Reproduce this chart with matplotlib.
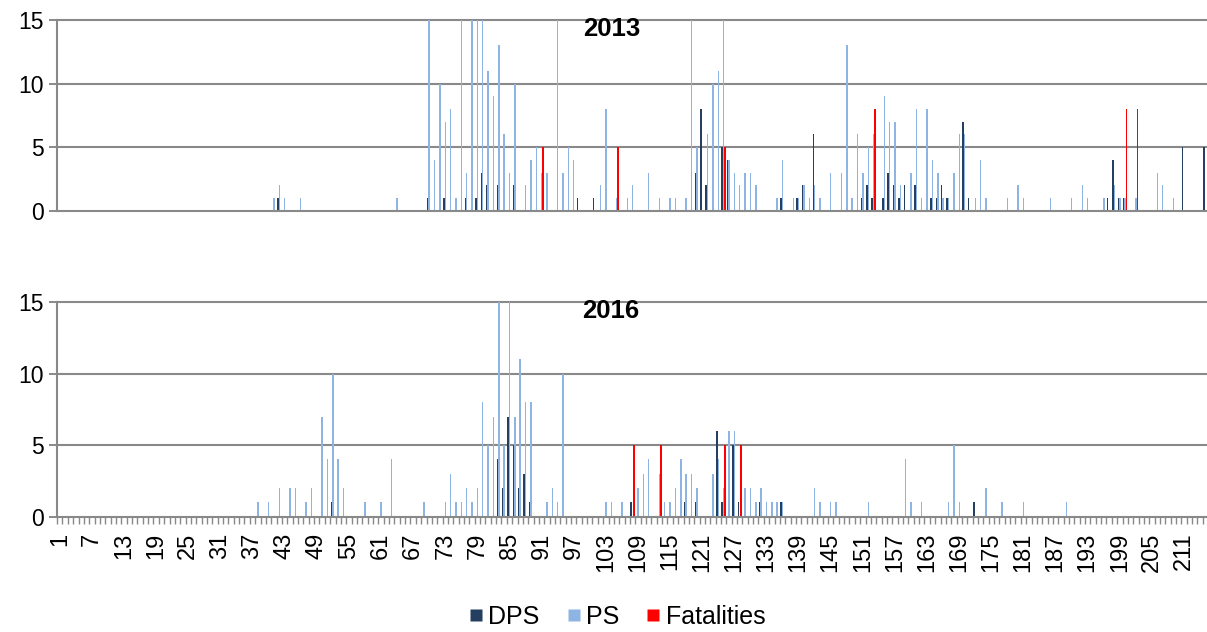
import numpy as np
import matplotlib
matplotlib.use("Agg")
import matplotlib.pyplot as plt
from matplotlib.lines import Line2D

plt.rcParams['font.family'] = ['Liberation Sans', 'DejaVu Sans']

# ---------------- data ----------------
n_categories = 215
categories = list(range(1, n_categories + 1))
series_names = ["DPS", "PS", "Fatalities"]
series_colors = ["#243F60", "#8EB4E3", "#FF0000"]
year_labels = ["2013", "2016"]

# 2013 (category -> value)
dps_2013_cat = [42, 70, 73, 77, 79, 80, 81, 83, 86, 98, 101, 120, 121, 122, 125, 126,
                136, 139, 140, 142, 151, 152, 153, 155, 156, 157, 158, 159, 161, 164,
                165, 166, 167, 170, 171, 197, 198, 199, 200, 211, 215]
dps_2013_val = [1, 1, 1, 1, 1, 3, 2, 2, 2, 1, 1, 3, 8, 2, 5, 4,
                1, 1, 2, 6, 1, 2, 1, 1, 3, 2, 1, 2, 2, 1,
                1, 2, 1, 7, 1, 1, 4, 1, 1, 5, 5]

ps_2013_cat = [41, 42, 43, 46, 64, 70, 71, 72, 73, 74, 75, 76, 77, 78, 79, 80, 81, 82, 83,
               84, 85, 86, 88, 89, 90, 91, 92, 94, 95, 96, 97, 102, 103, 105, 107, 108,
               111, 113, 115, 116, 118, 119, 120, 122, 123, 124, 125, 126, 127, 128, 129,
               130, 131, 135, 136, 138, 139, 140, 141, 142, 143, 145, 147, 148, 149, 150,
               151, 152, 153, 155, 156, 157, 158, 160, 161, 162, 163, 164, 165, 166, 167,
               168, 169, 170, 172, 173, 174, 178, 180, 181, 186, 190, 192, 193, 196, 198,
               199, 200, 202, 206, 207, 209]
ps_2013_val = [1, 2, 1, 1, 1, 15, 4, 10, 7, 8, 1, 15, 3, 15, 15, 15, 11, 9, 13,
               6, 3, 10, 2, 4, 5, 3, 3, 15, 3, 5, 4, 2, 8, 1, 1, 2,
               3, 1, 1, 1, 1, 15, 5, 6, 10, 11, 15, 4, 3, 2, 3,
               3, 2, 1, 4, 1, 1, 2, 1, 2, 1, 3, 3, 13, 1, 6,
               3, 5, 6, 9, 7, 7, 2, 3, 8, 1, 8, 4, 3, 1, 1,
               3, 6, 6, 1, 4, 1, 1, 2, 1, 1, 1, 2, 1, 1, 2,
               1, 1, 1, 3, 2, 1]

fat_2013_cat = [91, 105, 125, 153, 200, 202]
fat_2013_val = [5, 5, 5, 8, 8, 8]

# 2016 (category -> value)
dps_2016_cat = [52, 83, 84, 85, 86, 87, 88, 89, 108, 118, 120, 124, 125, 127, 128, 132, 136, 172]
dps_2016_val = [1, 4, 2, 7, 5, 2, 3, 1, 1, 1, 1, 6, 1, 5, 1, 1, 1, 1]

ps_2016_cat = [38, 40, 42, 44, 45, 47, 48, 50, 51, 52, 53, 54, 58, 61, 63, 69, 73, 74, 75,
               76, 77, 78, 79, 80, 81, 82, 83, 84, 85, 86, 87, 88, 89, 92, 93, 94, 95,
               103, 104, 106, 109, 110, 111, 113, 114, 115, 116, 117, 118, 119, 120, 123,
               124, 125, 126, 127, 129, 130, 131, 132, 133, 134, 135, 136, 142, 143, 145,
               146, 152, 159, 160, 162, 167, 168, 169, 174, 177, 181, 189]
ps_2016_val = [1, 1, 2, 2, 2, 1, 2, 7, 4, 10, 4, 2, 1, 1, 4, 1, 1, 3, 1,
               1, 2, 1, 2, 8, 5, 7, 15, 5, 15, 7, 11, 8, 8, 1, 2, 1, 10,
               1, 1, 1, 2, 3, 4, 3, 1, 1, 2, 4, 3, 3, 2, 3,
               4, 2, 6, 6, 2, 2, 1, 2, 1, 1, 1, 1, 2, 1, 1,
               1, 1, 4, 1, 1, 1, 5, 1, 2, 1, 1, 1]

fat_2016_cat = [108, 113, 125, 128]
fat_2016_val = [5, 5, 5, 5]

y_ticks = [0, 5, 10, 15]
x_label_step = 6


def dense(cats, vals):
    arr = np.zeros(n_categories)
    for c, v in zip(cats, vals):
        arr[c - 1] = v
    return arr


panels = [
    [dense(dps_2013_cat, dps_2013_val), dense(ps_2013_cat, ps_2013_val), dense(fat_2013_cat, fat_2013_val)],
    [dense(dps_2016_cat, dps_2016_val), dense(ps_2016_cat, ps_2016_val), dense(fat_2016_cat, fat_2016_val)],
]

# ---------------- figure ----------------
W, H = 1207, 632
fig = plt.figure(figsize=(W / 100, H / 100), dpi=100)

left = 57.1 / W
width = 1151.1 / W
ax_top = fig.add_axes([left, 1 - 210.7 / H, width, 190.7 / H])
ax_bot = fig.add_axes([left, 1 - 516.7 / H, width, 214.7 / H])

grid_color = "#898989"
x = np.array(categories, dtype=float)
bw = 0.27
offsets = [-bw, 0.0, bw]

for i, (ax, data, yl) in enumerate(zip([ax_top, ax_bot], panels, year_labels)):
    for s, (vals, col, off) in enumerate(zip(data, series_colors, offsets)):
        ax.bar(x + off, vals, width=bw, color=col, linewidth=0, zorder=3)
    ax.set_xlim(0.5, n_categories + 0.5)
    ax.set_ylim(0, 15)
    ax.set_yticks(y_ticks)
    ax.set_yticklabels([str(t) for t in y_ticks])
    ax.tick_params(axis='y', which='major', direction='out', length=5.8, width=1.4,
                   color=grid_color, labelsize=16.5, pad=4)
    for sp in ['top', 'right']:
        ax.spines[sp].set_visible(False)
    ax.spines['left'].set_color(grid_color)
    ax.spines['left'].set_linewidth(1.5)
    ax.spines['bottom'].set_color(grid_color)
    ax.spines['bottom'].set_linewidth(1.5)
    ax.spines['bottom'].set_zorder(4)
    for t in y_ticks[1:]:
        ax.axhline(t, color=grid_color, lw=1.5, zorder=1, clip_on=False)
    ax.set_facecolor('none')

ax_top.tick_params(axis='x', which='both', bottom=False, labelbottom=False)
ax_top.text(0.482, 1 - 16 / 190.7, year_labels[0], transform=ax_top.transAxes,
            ha='center', va='baseline', fontsize=18.5, fontweight='bold', zorder=5)
ax_bot.text(0.481, 1 - 16.3 / 214.7, year_labels[1], transform=ax_bot.transAxes,
            ha='center', va='baseline', fontsize=18.5, fontweight='bold', zorder=5)

# bottom x axis: minor ticks at category boundaries, labels every 6th
ax_bot.set_xticks([c for c in categories if (c - 1) % x_label_step == 0])
ax_bot.set_xticklabels([str(c) for c in categories if (c - 1) % x_label_step == 0],
                       rotation=90)
ax_bot.set_xticks(np.arange(0.5, n_categories + 1, 1.0), minor=True)
ax_bot.tick_params(axis='x', which='major', length=0, labelsize=17, pad=11.5)
ax_bot.tick_params(axis='x', which='minor', direction='out', length=5, width=1.0,
                   color=grid_color)

handles = [Line2D([], [], marker='s', linestyle='None', markersize=8.3,
                  markerfacecolor=c, markeredgecolor='none') for c in series_colors]
fig.legend(handles, series_names, loc='center', bbox_to_anchor=(617.5 / W, 1 - 617 / H),
           ncol=3, frameon=False, fontsize=18, handlelength=0.5,
           handletextpad=0.25, columnspacing=1.1, borderaxespad=0)

fig.savefig("out.png", dpi=100)
